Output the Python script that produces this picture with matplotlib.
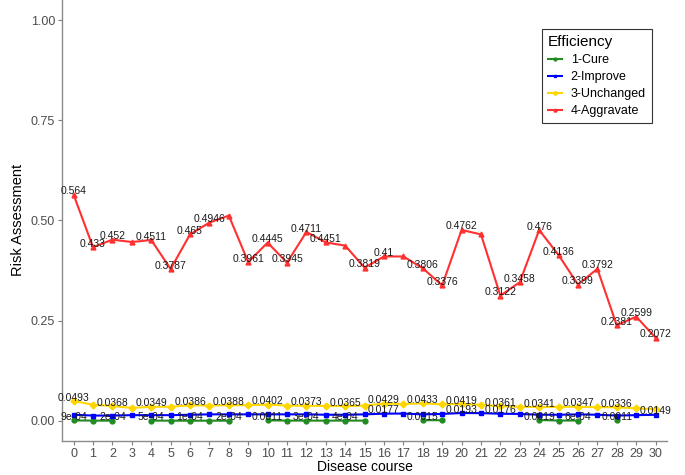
import matplotlib.pyplot as plt
import numpy as np

plt.rcParams['font.family'] = ['Liberation Sans', 'DejaVu Sans']

nan = np.nan
course = list(range(31))

cure = [0.0009, 0.0003, 0.0002, nan, 0.0005, 0.0002, 0.0001, 0.0002, 0.0002, nan,
        0.0011, 0.0004, 0.0003, 0.0003, 0.0004, 0.0003, nan, nan, 0.0015, 0.0012,
        nan, nan, nan, nan, 0.0019, 0.0005, 0.0006, nan, 0.0011, nan, nan]
improve = [0.015, 0.013, 0.013, 0.014, 0.014, 0.014, 0.015, 0.016, 0.016, 0.016,
           0.016, 0.016, 0.016, 0.015, 0.015, 0.016, 0.0177, 0.018, 0.016, 0.017,
           0.0193, 0.019, 0.0176, 0.017, 0.015, 0.015, 0.016, 0.015, 0.013, 0.014, 0.0149]
unchanged = [0.0493, 0.040, 0.0368, 0.032, 0.0349, 0.035, 0.0386, 0.038, 0.0388, 0.039,
             0.0402, 0.038, 0.0373, 0.037, 0.0365, 0.038, 0.0429, 0.042, 0.0433, 0.041,
             0.0419, 0.040, 0.0361, 0.035, 0.0341, 0.035, 0.0347, 0.034, 0.0336, 0.031, 0.029]
aggravate = [0.564, 0.433, 0.452, 0.446, 0.4511, 0.3787, 0.465, 0.4946, 0.512, 0.3961,
             0.4445, 0.3945, 0.4711, 0.4451, 0.437, 0.3819, 0.41, 0.41, 0.3806, 0.3376,
             0.4762, 0.465, 0.3122, 0.3458, 0.476, 0.4136, 0.3399, 0.3792, 0.2381, 0.2599, 0.2072]

# which points carry a value label (the rest were dropped for overlap)
cure_lab = [0, 2, 4, 6, 8, 10, 12, 14, 18, 24, 26, 28]
improve_lab = [16, 20, 22, 30]
unchanged_lab = list(range(0, 29, 2))
aggravate_lab = [i for i in course if i not in (3, 8, 14, 17, 21)]

series = [
    ("1-Cure", cure, cure_lab, "#228B22", "o"),
    ("2-Improve", improve, improve_lab, "#0000FF", "s"),
    ("3-Unchanged", unchanged, unchanged_lab, "#FFD700", "D"),
    ("4-Aggravate", aggravate, aggravate_lab, "#FF3030", "^"),
]


def fmt(v):
    if v < 0.001:
        return f"{v:.0e}"
    return f"{v:g}"


fig = plt.figure(figsize=(6.85, 4.75), dpi=100)
ax = fig.add_axes([0.0905, 0.072, 0.8835, 0.928])

for name, vals, labs, col, mk in series:
    ax.plot(course, vals, color=col, lw=1.5, marker=mk, ms=3.5, label=name)
    for i in labs:
        ax.annotate(fmt(vals[i]), (course[i], vals[i]), xytext=(0, 2.5),
                    textcoords="offset points", ha="center", va="center",
                    fontsize=7.5, color="#1a1a1a")

ax.set_xlim(-0.6, 30.6)
ax.set_ylim(-0.05, 1.05)
ax.set_xticks(course)
ax.set_xticklabels([str(c) for c in course])
ax.set_yticks([0, 0.25, 0.5, 0.75, 1.0])
ax.set_yticklabels(["0.00", "0.25", "0.50", "0.75", "1.00"])
ax.tick_params(colors="#7f7f7f", labelcolor="#4d4d4d", labelsize=9, length=3, pad=2)
for s in ("top", "right"):
    ax.spines[s].set_visible(False)
for s in ("left", "bottom"):
    ax.spines[s].set_color("#8a8a8a")
    ax.spines[s].set_linewidth(1.0)
ax.set_xlabel("Disease course", fontsize=10, labelpad=0)
ax.set_ylabel("Risk Assessment", fontsize=10.5, labelpad=4)

leg = ax.legend(title="Efficiency", loc="upper left", bbox_to_anchor=(0.793, 0.935),
                borderaxespad=0, fontsize=9, title_fontsize=11, fancybox=False,
                framealpha=1, edgecolor="#333333", handlelength=1.1, handletextpad=0.7,
                markerscale=0.6, alignment="left", labelspacing=0.4, borderpad=0.5)
leg.get_frame().set_linewidth(0.8)

fig.savefig("out.png", dpi=100)
